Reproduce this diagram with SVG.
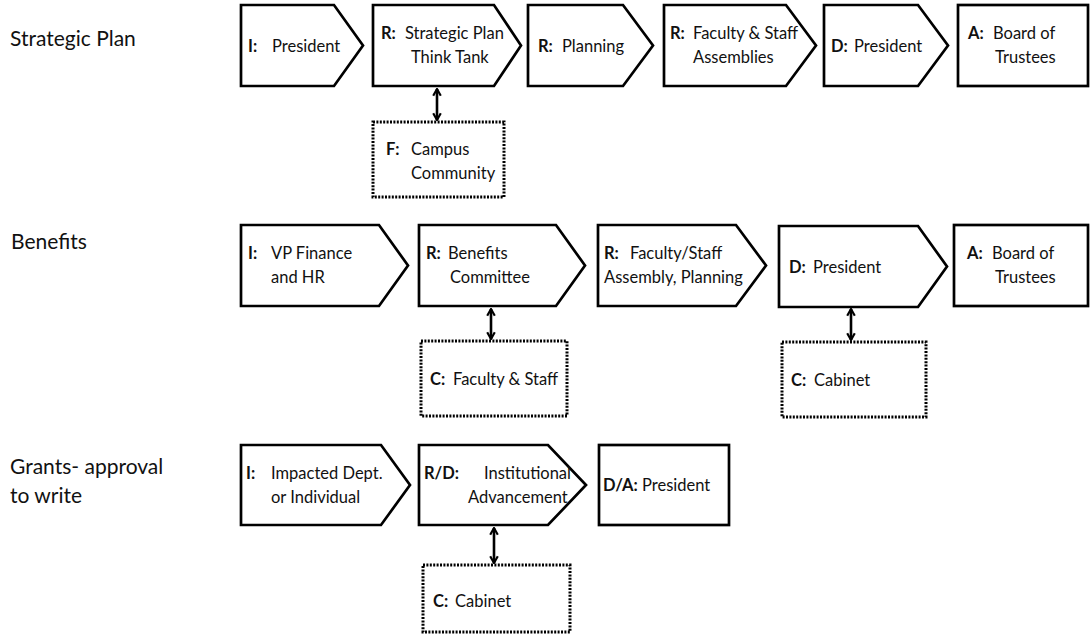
<svg xmlns="http://www.w3.org/2000/svg" width="1091" height="643" viewBox="0 0 1091 643">
<style>
.bg{fill:#fff}
.sh{fill:#fff;stroke:#000;stroke-width:2.7;stroke-linejoin:miter}
.dt{fill:#fff;stroke:#000;stroke-width:3;stroke-dasharray:2 1.4}
.t{font-family:Lato,"Open Sans","Liberation Sans",sans-serif;font-size:16.5px;fill:#111}
.b{font-weight:bold}
.lbl{font-family:Lato,"Open Sans","Liberation Sans",sans-serif;font-size:21px;fill:#111}
.cn{stroke:#000;stroke-width:2.6;fill:none}
</style>
<defs>
<marker id="ah" viewBox="0 0 10 10" refX="8.5" refY="5" markerWidth="9" markerHeight="10" orient="auto-start-reverse" markerUnits="userSpaceOnUse">
<path d="M1,0.8 L8.5,5 L1,9.2" fill="none" stroke="#000" stroke-width="2.4"/>
</marker>
</defs>
<rect class="bg" x="0" y="0" width="1091" height="643"/>

<g id="row-labels">
<text class="lbl" x="10" y="46">Strategic Plan</text>
<text class="lbl" x="11" y="249">Benefits</text>
<text class="lbl" x="10" y="474">Grants- approval</text>
<text class="lbl" x="10" y="503">to write</text>
</g>

<g id="connectors">
<line class="cn" x1="437" y1="89" x2="437" y2="120" marker-start="url(#ah)" marker-end="url(#ah)"/>
<line class="cn" x1="491" y1="309" x2="491" y2="339" marker-start="url(#ah)" marker-end="url(#ah)"/>
<line class="cn" x1="851" y1="309" x2="851" y2="340" marker-start="url(#ah)" marker-end="url(#ah)"/>
<line class="cn" x1="494" y1="528" x2="494" y2="563" marker-start="url(#ah)" marker-end="url(#ah)"/>
</g>

<!-- Row 1 -->
<g id="sp-i">
<polygon class="sh" points="241,5 334,5 363,45.5 334,86 241,86"/>
<text class="t" x="248" y="52"><tspan class="b">I:</tspan></text>
<text class="t" x="272" y="52">President</text>
</g>
<g id="sp-r1">
<polygon class="sh" points="373,5 494,5 521,45.5 494,86 373,86"/>
<text class="t" x="381" y="39"><tspan class="b">R:</tspan></text>
<text class="t" x="405" y="39">Strategic Plan</text>
<text class="t" x="411" y="63">Think Tank</text>
</g>
<g id="sp-r2">
<polygon class="sh" points="528,5 623,5 653,45.5 623,86 528,86"/>
<text class="t" x="538" y="52"><tspan class="b">R:</tspan></text>
<text class="t" x="562" y="52">Planning</text>
</g>
<g id="sp-r3">
<polygon class="sh" points="664,5 786,5 816,45.5 786,86 664,86"/>
<text class="t" x="670" y="39"><tspan class="b">R:</tspan></text>
<text class="t" x="693" y="39">Faculty &amp; Staff</text>
<text class="t" x="693" y="63">Assemblies</text>
</g>
<g id="sp-d">
<polygon class="sh" points="824,5 918,5 948,45.5 918,86 824,86"/>
<text class="t" x="831" y="52"><tspan class="b">D:</tspan></text>
<text class="t" x="854" y="52">President</text>
</g>
<g id="sp-a">
<rect class="sh" x="958" y="5" width="130" height="81"/>
<text class="t" x="968" y="39"><tspan class="b">A:</tspan></text>
<text class="t" x="993" y="39">Board of</text>
<text class="t" x="995" y="63">Trustees</text>
</g>
<g id="sp-f">
<rect class="dt" x="373" y="122" width="131" height="75"/>
<text class="t" x="386" y="155"><tspan class="b">F:</tspan></text>
<text class="t" x="411" y="155">Campus</text>
<text class="t" x="411" y="179">Community</text>
</g>

<!-- Row 2 -->
<g id="be-i">
<polygon class="sh" points="241,225 379,225 408,265.5 379,306 241,306"/>
<text class="t" x="248" y="259"><tspan class="b">I:</tspan></text>
<text class="t" x="271" y="259">VP Finance</text>
<text class="t" x="271" y="283">and HR</text>
</g>
<g id="be-r1">
<polygon class="sh" points="419,225 556,225 585,265.5 556,306 419,306"/>
<text class="t" x="426" y="259"><tspan class="b">R:</tspan></text>
<text class="t" x="448" y="259">Benefits</text>
<text class="t" x="450" y="283">Committee</text>
</g>
<g id="be-r2">
<polygon class="sh" points="598,225 736,225 766,265.5 736,306 598,306"/>
<text class="t" x="604" y="259"><tspan class="b">R:</tspan></text>
<text class="t" x="630" y="259">Faculty/Staff</text>
<text class="t" x="604" y="283">Assembly, Planning</text>
</g>
<g id="be-d">
<polygon class="sh" points="779,226 918,226 947,266.5 918,307 779,307"/>
<text class="t" x="789" y="273"><tspan class="b">D:</tspan></text>
<text class="t" x="813" y="273">President</text>
</g>
<g id="be-a">
<rect class="sh" x="954" y="225" width="134" height="81"/>
<text class="t" x="967" y="259"><tspan class="b">A:</tspan></text>
<text class="t" x="992" y="259">Board of</text>
<text class="t" x="995" y="283">Trustees</text>
</g>
<g id="be-c1">
<rect class="dt" x="421" y="341" width="146" height="75"/>
<text class="t" x="430" y="385"><tspan class="b">C:</tspan></text>
<text class="t" x="453" y="385">Faculty &amp; Staff</text>
</g>
<g id="be-c2">
<rect class="dt" x="782" y="342" width="144" height="75"/>
<text class="t" x="791" y="386"><tspan class="b">C:</tspan></text>
<text class="t" x="814" y="386">Cabinet</text>
</g>

<!-- Row 3 -->
<g id="gr-i">
<polygon class="sh" points="241,445 381,445 410,485 381,525 241,525"/>
<text class="t" x="246" y="479"><tspan class="b">I:</tspan></text>
<text class="t" x="271" y="479">Impacted Dept.</text>
<text class="t" x="271" y="503">or Individual</text>
</g>
<g id="gr-rd">
<polygon class="sh" points="419,445 548,445 586,485 548,525 419,525"/>
<text class="t" x="424" y="479"><tspan class="b">R/D:</tspan></text>
<text class="t" x="484" y="479">Institutional</text>
<text class="t" x="468" y="503">Advancement</text>
</g>
<g id="gr-da">
<rect class="sh" x="599" y="445" width="130" height="80"/>
<text class="t" x="603" y="491"><tspan class="b">D/A:</tspan></text>
<text class="t" x="642" y="491">President</text>
</g>
<g id="gr-c">
<rect class="dt" x="423" y="565" width="147" height="67"/>
<text class="t" x="433" y="607"><tspan class="b">C:</tspan></text>
<text class="t" x="455" y="607">Cabinet</text>
</g>
</svg>
